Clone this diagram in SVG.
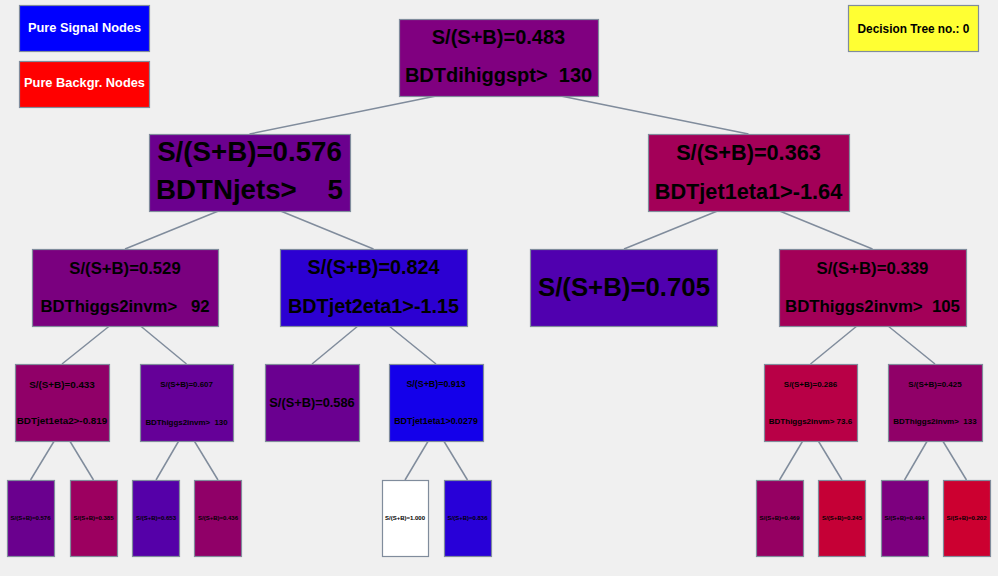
<svg xmlns="http://www.w3.org/2000/svg" width="998" height="576" viewBox="0 0 998 576">
<style>
text{font-family:"Liberation Sans",Arial,sans-serif;font-weight:bold;text-anchor:middle;fill:#000}
.box{stroke:#808c9c;stroke-width:1.2}
.lg{fill:#fff}
#connectors line{stroke:#808c9c;stroke-width:1.5}
</style>
<rect x="0" y="0" width="998" height="576" fill="#f0f0f0"/>
<g id="legend-signal"><rect class="box" x="19.5" y="5.5" width="130" height="46" fill="#0000ff"/><text class="lg" x="84.5" y="31.7" font-size="12.8">Pure Signal Nodes</text></g>
<g id="legend-backgr"><rect class="box" x="19.5" y="61.5" width="130" height="46" fill="#ff0000"/><text class="lg" x="84.5" y="87.3" font-size="12.8">Pure Backgr. Nodes</text></g>
<g id="tree-label"><rect class="box" x="848.5" y="5.5" width="130" height="46" fill="#ffff33"/><text x="913.5" y="32.7" font-size="11.85">Decision Tree no.: 0</text></g>
<g id="connectors">
<line x1="436.2" y1="96" x2="249.5" y2="134"/>
<line x1="560.8" y1="96" x2="748.5" y2="134"/>
<line x1="218.4" y1="211" x2="125" y2="249"/>
<line x1="280.6" y1="211" x2="373.5" y2="249"/>
<line x1="717.4" y1="211" x2="624" y2="249"/>
<line x1="779.6" y1="211" x2="872.5" y2="249"/>
<line x1="109.4" y1="326" x2="62" y2="364"/>
<line x1="140.6" y1="326" x2="186.5" y2="364"/>
<line x1="357.9" y1="326" x2="312" y2="364"/>
<line x1="389.1" y1="326" x2="436" y2="364"/>
<line x1="856.9" y1="326" x2="810.5" y2="364"/>
<line x1="888.1" y1="326" x2="935" y2="364"/>
<line x1="54.2" y1="441" x2="30.5" y2="480"/>
<line x1="69.8" y1="441" x2="93.5" y2="480"/>
<line x1="178.7" y1="441" x2="156" y2="480"/>
<line x1="194.3" y1="441" x2="218" y2="480"/>
<line x1="428.2" y1="441" x2="405" y2="480"/>
<line x1="443.8" y1="441" x2="467.5" y2="480"/>
<line x1="802.7" y1="441" x2="779.5" y2="480"/>
<line x1="818.3" y1="441" x2="842" y2="480"/>
<line x1="927.2" y1="441" x2="904.5" y2="480"/>
<line x1="942.8" y1="441" x2="966.5" y2="480"/>
</g>
<g id="n0"><rect class="box" x="399.5" y="19.5" width="199" height="77" fill="#800080"/><text x="498.5" y="43.5" font-size="20">S/(S+B)=0.483</text><text x="498.5" y="81.5" font-size="20" xml:space="preserve">BDTdihiggspt&gt;  130</text></g>
<g id="n1"><rect class="box" x="149.5" y="134.5" width="201" height="77" fill="#6b008e"/><text x="249.5" y="160.5" font-size="27.7">S/(S+B)=0.576</text><text x="249.5" y="198.5" font-size="27.7" xml:space="preserve">BDTNjets&gt;    5</text></g>
<g id="n2"><rect class="box" x="648.5" y="134.5" width="201" height="77" fill="#a30058"/><text x="748.5" y="159.5" font-size="21.7">S/(S+B)=0.363</text><text x="748.5" y="198.5" font-size="21.7">BDTjet1eta1&gt;-1.64</text></g>
<g id="n3"><rect class="box" x="32.5" y="249.5" width="186" height="77" fill="#7a007f"/><text x="125" y="273.5" font-size="16.7">S/(S+B)=0.529</text><text x="125" y="311.5" font-size="16.7" xml:space="preserve">BDThiggs2invm&gt;   92</text></g>
<g id="n4"><rect class="box" x="280.5" y="249.5" width="187" height="77" fill="#2c00d2"/><text x="373.5" y="273.5" font-size="19.8">S/(S+B)=0.824</text><text x="373.5" y="312.5" font-size="19.8">BDTjet2eta1&gt;-1.15</text></g>
<g id="n5"><rect class="box" x="530.5" y="249.5" width="187" height="77" fill="#5000af"/><text x="624" y="296" font-size="25.8">S/(S+B)=0.705</text></g>
<g id="n6"><rect class="box" x="779.5" y="249.5" width="187" height="77" fill="#a30058"/><text x="872.5" y="274" font-size="16.8">S/(S+B)=0.339</text><text x="872.5" y="312" font-size="16.8" xml:space="preserve">BDThiggs2invm&gt;  105</text></g>
<g id="n7"><rect class="box" x="15.5" y="364.5" width="94" height="77" fill="#900068"/><text x="62" y="387.5" font-size="9.85">S/(S+B)=0.433</text><text x="62" y="424" font-size="9.85">BDTjet1eta2&gt;-0.819</text></g>
<g id="n8"><rect class="box" x="140.5" y="364.5" width="93" height="77" fill="#650098"/><text x="186.5" y="386.7" font-size="7.9">S/(S+B)=0.607</text><text x="186.5" y="425" font-size="7.9" xml:space="preserve">BDThiggs2invm&gt;  130</text></g>
<g id="n9"><rect class="box" x="265.5" y="364.5" width="94" height="77" fill="#6a0090"/><text x="312" y="406.7" font-size="12.8">S/(S+B)=0.586</text></g>
<g id="n10"><rect class="box" x="389.5" y="364.5" width="94" height="77" fill="#1400ea"/><text x="436" y="386.7" font-size="8.9">S/(S+B)=0.913</text><text x="436" y="424" font-size="8.9">BDTjet1eta1&gt;0.0279</text></g>
<g id="n11"><rect class="box" x="764.5" y="364.5" width="93" height="77" fill="#b80046"/><text x="810.5" y="386.7" font-size="8">S/(S+B)=0.286</text><text x="810.5" y="424" font-size="8">BDThiggs2invm&gt; 73.6</text></g>
<g id="n12"><rect class="box" x="888.5" y="364.5" width="94" height="77" fill="#900068"/><text x="935" y="386.7" font-size="8">S/(S+B)=0.425</text><text x="935" y="424" font-size="8" xml:space="preserve">BDThiggs2invm&gt;  133</text></g>
<g id="l1"><rect class="box" x="7.5" y="480.5" width="47" height="76" fill="#6a008e"/><text x="30.5" y="520" font-size="6">S/(S+B)=0.576</text></g>
<g id="l2"><rect class="box" x="70.5" y="480.5" width="47" height="76" fill="#9c0060"/><text x="93.5" y="520" font-size="6">S/(S+B)=0.385</text></g>
<g id="l3"><rect class="box" x="132.5" y="480.5" width="47" height="76" fill="#5500a8"/><text x="156" y="520" font-size="6">S/(S+B)=0.653</text></g>
<g id="l4"><rect class="box" x="194.5" y="480.5" width="47" height="76" fill="#900068"/><text x="218" y="520" font-size="6">S/(S+B)=0.436</text></g>
<g id="l5"><rect class="box" x="382.5" y="480.5" width="46" height="76" fill="#ffffff"/><text x="405" y="520" font-size="6">S/(S+B)=1.000</text></g>
<g id="l6"><rect class="box" x="444.5" y="480.5" width="47" height="76" fill="#2800d8"/><text x="467.5" y="520" font-size="6">S/(S+B)=0.836</text></g>
<g id="l7"><rect class="box" x="756.5" y="480.5" width="47" height="76" fill="#950062"/><text x="779.5" y="520" font-size="6">S/(S+B)=0.469</text></g>
<g id="l8"><rect class="box" x="818.5" y="480.5" width="47" height="76" fill="#c50036"/><text x="842" y="520" font-size="6">S/(S+B)=0.245</text></g>
<g id="l9"><rect class="box" x="881.5" y="480.5" width="47" height="76" fill="#7d007f"/><text x="904.5" y="520" font-size="6">S/(S+B)=0.494</text></g>
<g id="l10"><rect class="box" x="943.5" y="480.5" width="47" height="76" fill="#cc0030"/><text x="966.5" y="520" font-size="6">S/(S+B)=0.202</text></g>
</svg>
